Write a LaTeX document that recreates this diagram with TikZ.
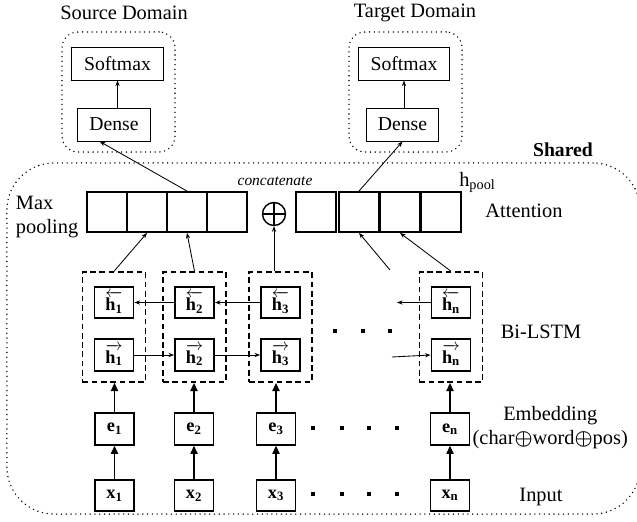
\documentclass[tikz,border=0pt]{standalone}
\usepackage{amsmath}
\usepackage{fontspec}
\setmainfont{Liberation Serif}
\usepackage{tikz}
\usetikzlibrary{arrows.meta,positioning,calc}

\newcommand{\lh}[1]{\ensuremath{\overleftarrow{\hbox{h\textsubscript{#1}}}}}
\newcommand{\rh}[1]{\ensuremath{\overrightarrow{\hbox{h\textsubscript{#1}}}}}

\begin{document}
\begin{tikzpicture}[x=0.025cm, y=-0.025cm,
  cell/.style={draw, line width=1.3pt, minimum width=0.975cm, minimum height=0.78cm, inner sep=0pt, font=\fontsize{13}{13}\selectfont\bfseries},
  poolbox/.style={draw, line width=1.3pt, minimum width=0.98cm, minimum height=1.0cm, inner sep=0pt},
  outbox/.style={draw, line width=0.7pt, minimum height=0.825cm, inner sep=0pt, font=\fontsize{14}{14}\selectfont},
  dotbox/.style={draw, line width=1.1pt, dash pattern=on 0pt off 3.4pt, line cap=round},
  lstm/.style={draw, line width=1pt, dash pattern=on 4pt off 2.6pt, minimum width=1.575cm, minimum height=2.75cm},
  arr/.style={-{Stealth[length=4pt,width=3pt]}, line width=0.6pt},
  tarr/.style={-{Triangle[length=6pt,width=5pt]}, line width=1.4pt},
  lbl/.style={font=\fontsize{14.5}{17}\selectfont, align=center}
]
  \useasboundingbox (0,0) rectangle (637,521);
  \clip (0,0) rectangle (637,521);

  % output heads
  \node[dotbox, rounded corners=0.4cm, minimum width=2.825cm, minimum height=3cm] (srcbox) at (118.5,92) {};
  \node[dotbox, rounded corners=0.4cm, minimum width=2.825cm, minimum height=3cm] (tgtbox) at (405.5,92) {};
  \node[lbl, font=\fontsize{14.5}{14}\selectfont] (srctitle) at (124,13) {Source Domain};
  \node[lbl, font=\fontsize{14.5}{14}\selectfont] (tgttitle) at (415,13) {Target Domain};
  \node[outbox, minimum width=2.275cm] (ssoft) at (117.5,63.5) {Softmax};
  \node[outbox, minimum width=1.8cm] (sdense) at (114,124.5) {Dense};
  \node[outbox, minimum width=2.275cm] (tsoft) at (404,63.5) {Softmax};
  \node[outbox, minimum width=1.8cm] (tdense) at (402.5,124.5) {Dense};
  \draw[arr] (ssoft.south |- sdense.north) -- (ssoft.south);
  \draw[arr] (tsoft.south |- tdense.north) -- (tsoft.south);

  % shared part
  \node[dotbox, rounded corners=1.175cm, minimum width=15.825cm, minimum height=8.775cm] (sharedbox) at (323.5,338.5) {};
  \node[font=\fontsize{14}{14}\selectfont\bfseries] (sharedlbl) at (563,150) {Shared};
  \node[font=\fontsize{11}{11}\selectfont\itshape] (concat) at (275,181) {concatenate};

  % pooled vectors
  \foreach \n/\px in {1/107,2/147,3/187,4/227}
    \node[poolbox] (l\n) at (\px,212) {};
  \foreach \n/\px in {1/316,2/359,3/400,4/441}
    \node[poolbox] (r\n) at (\px,212) {};
  \node[draw, circle, line width=1pt, minimum size=0.575cm, inner sep=0pt] (oplus) at (274,214) {};
  \draw[line width=1pt] (oplus.north) -- (oplus.south) (oplus.west) -- (oplus.east);

  \node[lbl, align=left, anchor=west] (maxpool) at (11,217) {Max\\pooling};
  \node[lbl, anchor=west, inner sep=0pt] (hpool) at (459,182) {h\textsubscript{pool}};
  \node[lbl] (attn) at (524,211) {Attention};

  % token columns
  \foreach \i/\hx/\ex in {1/114/114.5,2/194.5/194,3/280.5/276,n/451/450}{
    \node[lstm] (d\i) at (\hx,327) {};
    \node[cell] (hb\i) at (\hx,302.5) {\lh{\i}};
    \node[cell] (hf\i) at (\hx,355) {\rh{\i}};
    \node[cell] (e\i) at (\ex,429) {e\textsubscript{\i}};
    \node[cell] (x\i) at (\ex,495.5) {x\textsubscript{\i}};
    \draw[tarr] (x\i) -- (e\i);
    \draw[tarr] (e\i.north) -- (e\i.north |- d\i.south);
  }

  % recurrent links
  \coordinate (bend) at (397,302.5);
  \coordinate (fstart) at (392,357);
  \draw[arr] (hb3.west) -- (hb2.east);
  \draw[arr] (hb2.west) -- (hb1.east);
  \draw[arr] (hbn.west) -- (bend);
  \draw[arr] (hf1.east) -- (hf2.west);
  \draw[arr] (hf2.east) -- (hf3.west);
  \draw[arr] (fstart) -- (hfn.west);

  % into pooling
  \coordinate (pfree) at (390,270);
  \draw[arr] (d1.north) -- (l2.south);
  \draw[arr] (d2.north) -- (l3.south);
  \draw[arr] (oplus |- d3.north) -- (oplus.south);
  \draw[arr] (dn.north) -- (r3.south);
  \draw[arr] (pfree) -- (r2.south);
  \draw[arr] (l3.north) -- (sdense.-130);
  \draw[arr] (r2.north) -- (tdense.south);

  % ellipsis dots
  \foreach \dx in {335,363,390}
    \fill (\dx-1.6,329.4) rectangle ++(3.2,3.2);
  \foreach \dx in {313,342,369,397}{
    \fill (\dx-1.6,426.4) rectangle ++(3.2,3.2);
    \fill (\dx-1.6,492.4) rectangle ++(3.2,3.2);
  }

  \node[lbl] (bilstm) at (541,332) {Bi-LSTM};
  \node[lbl, anchor=west, inner sep=1pt] (embed) at (471,428) {Embedding\\(char$\boldsymbol{\oplus}$word$\boldsymbol{\oplus}$pos)};
  \node[lbl] (inlbl) at (541,497) {Input};
\end{tikzpicture}
\end{document}
